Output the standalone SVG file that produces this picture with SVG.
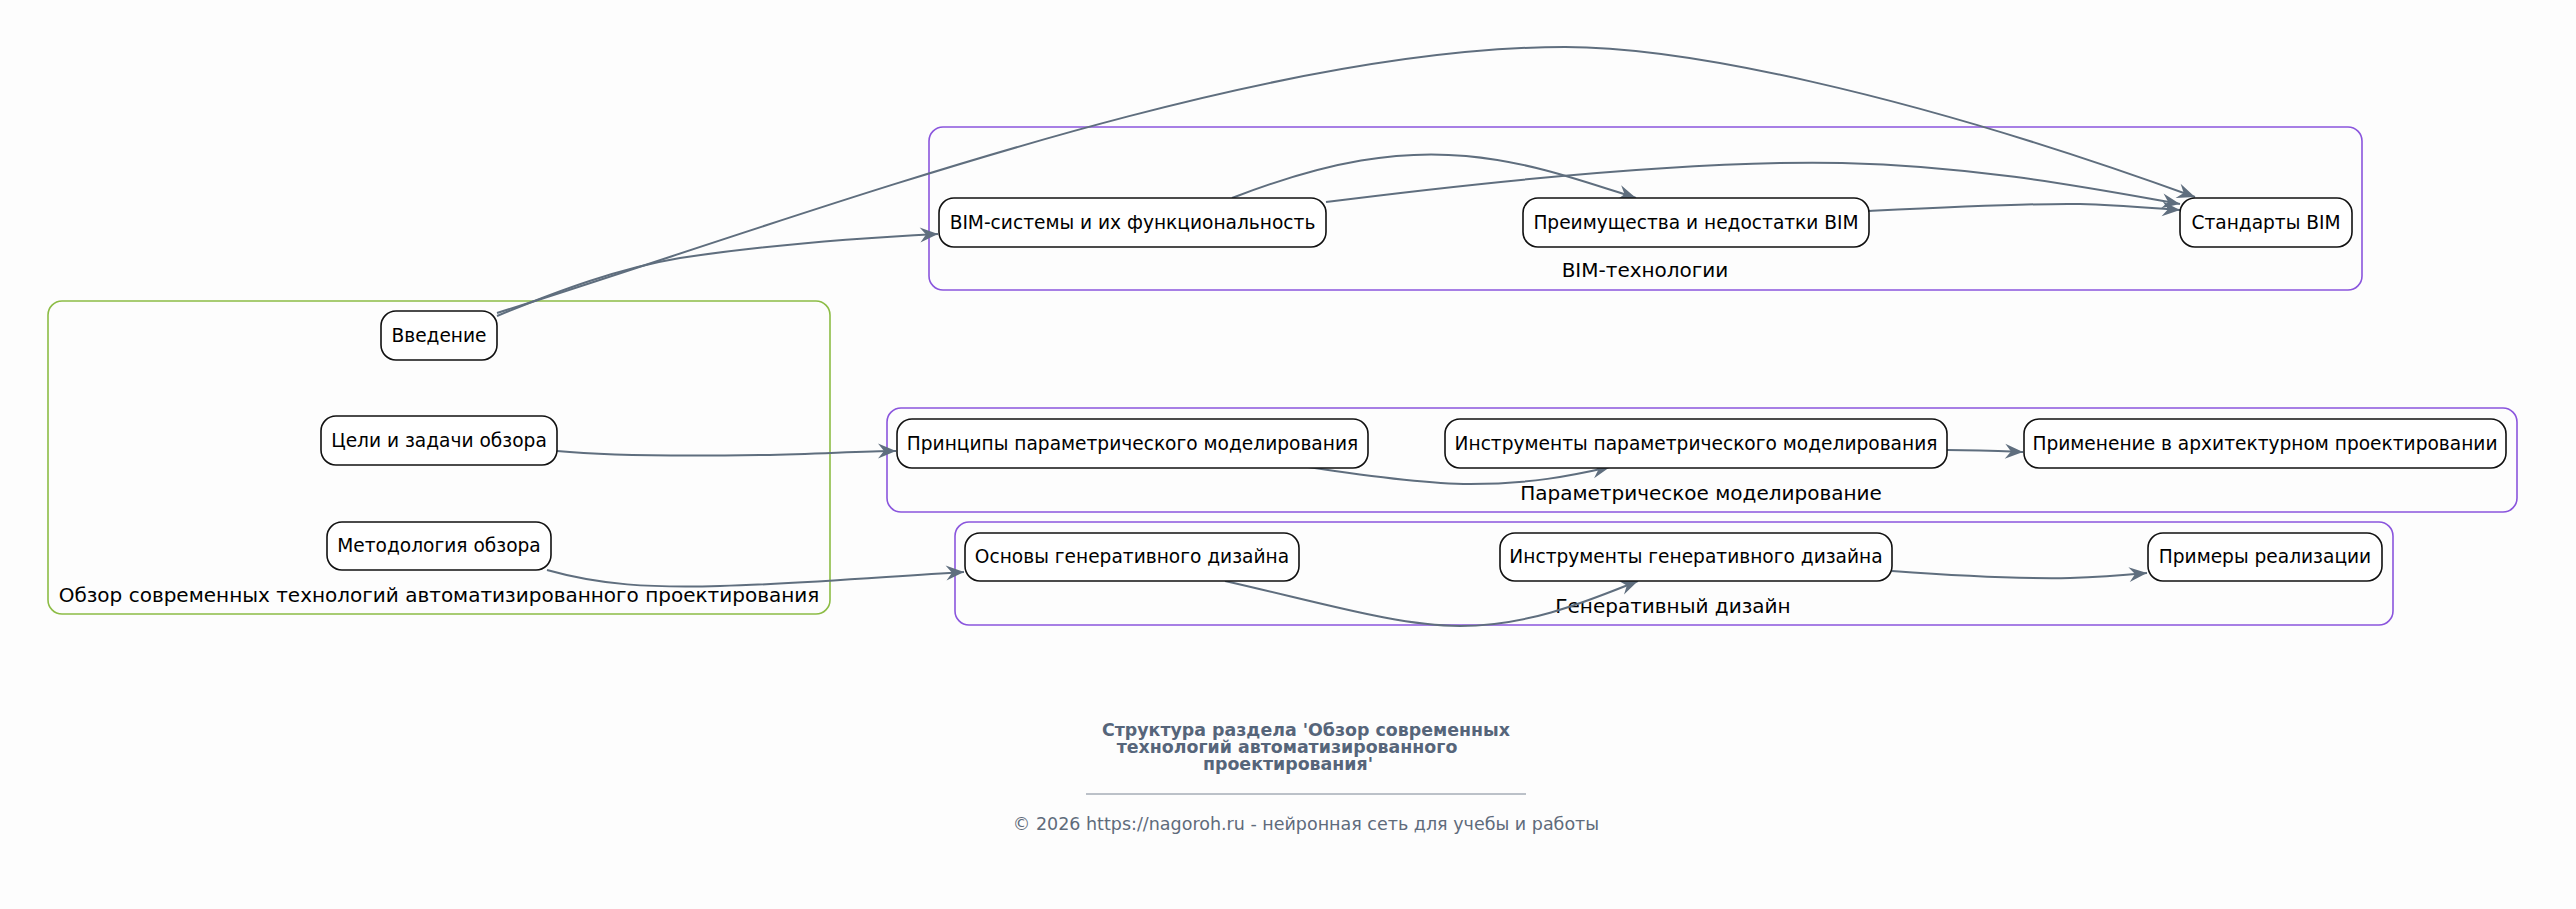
<svg xmlns="http://www.w3.org/2000/svg" width="2576" height="909" viewBox="0 0 2576 909">
<style>
.bg{fill:#fdfdfd}
.cl{fill:none;stroke-width:1.6}
.g{stroke:#8cbc45}
.p{stroke:#8a55dd}
.n rect{fill:#ffffff;stroke:#111111;stroke-width:1.6}
.t{font-family:"DejaVu Sans",sans-serif;font-size:18.6px;fill:#000000;text-anchor:middle}
.ct{font-family:"DejaVu Sans",sans-serif;font-size:20px;fill:#000000;text-anchor:middle}
.e path{fill:none;stroke:#5f6e7e;stroke-width:2}
.title{font-family:"DejaVu Sans",sans-serif;font-size:17.4px;font-weight:bold;fill:#56657a;text-anchor:middle}
.foot{font-family:"DejaVu Sans",sans-serif;font-size:17.5px;fill:#5f6b7b;text-anchor:middle}
</style>
<defs>
<marker id="arr" viewBox="-20 -10 22 20" refX="0" refY="0" markerWidth="22" markerHeight="20" markerUnits="userSpaceOnUse" orient="auto">
<path d="M0,0 L-18,-7.5 L-12,0 L-18,7.5 Z" fill="#5f6e7e"/>
</marker>
</defs>
<rect class="bg" x="0" y="0" width="2576" height="909"/>

<g id="cluster-overview">
<rect class="cl g" x="48" y="301" width="782" height="313" rx="14"/>
<text class="ct" x="439" y="602">Обзор современных технологий автоматизированного проектирования</text>
</g>
<g id="cluster-bim">
<rect class="cl p" x="929" y="127" width="1433" height="163" rx="14"/>
<text class="ct" x="1645" y="277">BIM-технологии</text>
</g>
<g id="cluster-param">
<rect class="cl p" x="887" y="408" width="1630" height="104" rx="14"/>
<text class="ct" x="1701" y="500">Параметрическое моделирование</text>
</g>
<g id="cluster-gen">
<rect class="cl p" x="955" y="522" width="1438" height="103" rx="14"/>
<text class="ct" x="1673" y="613">Генеративный дизайн</text>
</g>

<g id="connectors" class="e">
<path d="M497,316 C560,290 620,268 680,258 C760,246 860,238 938,234" marker-end="url(#arr)"/>
<path d="M497,313 C800,218 1250,47 1565,47 C1680,47 1900,90 2195,197" marker-end="url(#arr)"/>
<path d="M557,451 C620,457 700,456 760,455 C820,454 860,451 896,451" marker-end="url(#arr)"/>
<path d="M547,570 C600,585 650,588 720,586 C800,584 880,577 964,572" marker-end="url(#arr)"/>
<path d="M1232,198 C1330,160 1400,150 1466,156 C1530,162 1580,180 1636,198" marker-end="url(#arr)"/>
<path d="M1326,202 C1500,180 1700,160 1842,163 C1980,166 2100,190 2180,204" marker-end="url(#arr)"/>
<path d="M1869,211 C1950,207 2030,203 2080,204 C2120,205 2150,208 2180,210" marker-end="url(#arr)"/>
<path d="M1308,467 C1380,478 1430,484 1470,484 C1530,484 1570,476 1610,467" marker-end="url(#arr)"/>
<path d="M1947,450 C1980,450 2000,451 2023,452" marker-end="url(#arr)"/>
<path d="M1225,581 C1330,605 1400,626 1460,626 C1530,626 1590,600 1638,581" marker-end="url(#arr)"/>
<path d="M1892,571 C1960,576 2020,579 2070,578 C2100,577 2125,575 2147,573" marker-end="url(#arr)"/>
</g>

<g id="node-intro" class="n"><rect x="381" y="311" width="116" height="49" rx="15"/><text class="t" x="439" y="341.5">Введение</text></g>
<g id="node-goals" class="n"><rect x="321" y="416" width="236" height="49" rx="15"/><text class="t" x="439" y="446.5">Цели и задачи обзора</text></g>
<g id="node-method" class="n"><rect x="327" y="522" width="224" height="48" rx="15"/><text class="t" x="439" y="552">Методология обзора</text></g>
<g id="node-bim-sys" class="n"><rect x="939" y="198" width="387" height="49" rx="15"/><text class="t" x="1132.5" y="228.5">BIM-системы и их функциональность</text></g>
<g id="node-bim-pros" class="n"><rect x="1523" y="198" width="346" height="49" rx="15"/><text class="t" x="1696" y="228.5">Преимущества и недостатки BIM</text></g>
<g id="node-bim-std" class="n"><rect x="2180" y="198" width="172" height="49" rx="15"/><text class="t" x="2266" y="228.5">Стандарты BIM</text></g>
<g id="node-param-princ" class="n"><rect x="897" y="419" width="471" height="49" rx="15"/><text class="t" x="1132.5" y="449.5">Принципы параметрического моделирования</text></g>
<g id="node-param-tools" class="n"><rect x="1445" y="419" width="502" height="49" rx="15"/><text class="t" x="1696" y="449.5">Инструменты параметрического моделирования</text></g>
<g id="node-param-app" class="n"><rect x="2024" y="419" width="482" height="49" rx="15"/><text class="t" x="2265" y="449.5">Применение в архитектурном проектировании</text></g>
<g id="node-gen-basics" class="n"><rect x="965" y="533" width="334" height="48" rx="15"/><text class="t" x="1132" y="563">Основы генеративного дизайна</text></g>
<g id="node-gen-tools" class="n"><rect x="1500" y="533" width="392" height="48" rx="15"/><text class="t" x="1696" y="563">Инструменты генеративного дизайна</text></g>
<g id="node-gen-examples" class="n"><rect x="2148" y="533" width="234" height="48" rx="15"/><text class="t" x="2265" y="563">Примеры реализации</text></g>

<g id="title">
<text class="title" x="1306" y="736">Структура раздела 'Обзор современных</text>
<text class="title" x="1287" y="753">технологий автоматизированного</text>
<text class="title" x="1288" y="770">проектирования'</text>
<line x1="1086" y1="794" x2="1526" y2="794" stroke="#7a8594" stroke-width="1"/>
<text class="foot" x="1306" y="830">© 2026 https://nagoroh.ru - нейронная сеть для учебы и работы</text>
</g>
</svg>
